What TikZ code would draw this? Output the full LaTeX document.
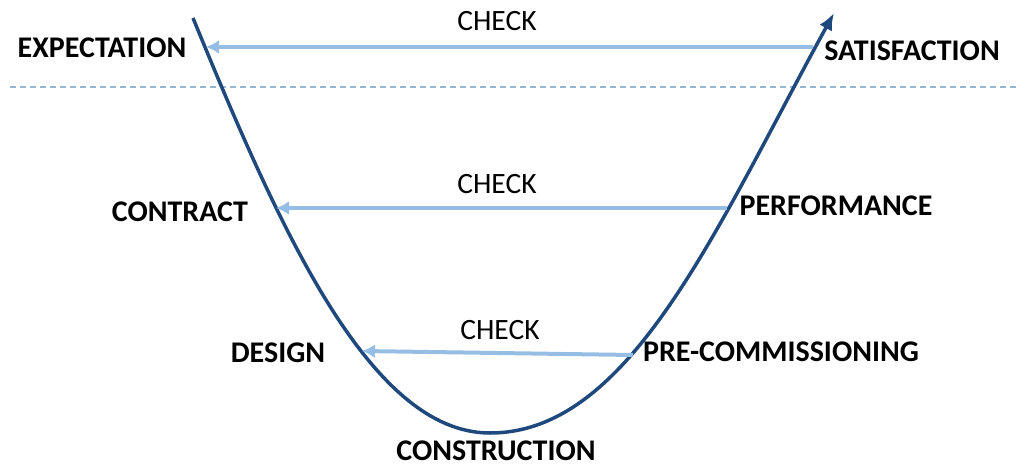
\documentclass[tikz,border=0pt]{standalone}
\usepackage{fontspec}
\setmainfont{Carlito}
\usetikzlibrary{arrows.meta}
\definecolor{vblue}{RGB}{31,73,125}
\definecolor{checkblue}{RGB}{150,190,228}
\definecolor{dashblue}{RGB}{150,182,210}
\tikzset{
  stage/.style={font=\bfseries\fontsize{30}{35}\selectfont, inner sep=0pt},
  checklbl/.style={font=\fontsize{29.5}{34}\selectfont, inner sep=0pt},
  checkarrow/.style={checkblue, line width=4pt, -{Latex[length=13pt,width=14pt]}}
}
\begin{document}
\begin{tikzpicture}[x=1pt,y=-1pt]
            \useasboundingbox (0,0) rectangle (1018,466);
            \draw [dashblue, line width=1.3pt, dash pattern=on 6pt off 4pt](10,87) -- (1018,87);
            % points where the checks meet the curve
            \coordinate (expect) at (206,47);
            \coordinate (satisf) at (813,47);
            \coordinate (contract) at (276,208);
            \coordinate (perform) at (727,208);
            \coordinate (design) at (362,351);
            \coordinate (precom) at (633,355);
            \coordinate (bottom) at (490,433);
            \draw [vblue, line width=3.5pt, -{Latex[length=17pt,width=14pt]}]
              (193,18) .. controls (280,230) and (370,433) .. (bottom)
                       .. controls (630,433) and (715,230) .. (834,13);
            \draw [checkarrow] (satisf) -- (expect);
            \draw [checkarrow] (perform) -- (contract);
            \draw [checkarrow] (precom) -- (design);
            \node [checklbl] (chk1) at (497,21) {CHECK};
            \node [checklbl] (chk2) at (497,184) {CHECK};
            \node [checklbl] (chk3) at (500,330) {CHECK};
            \node [stage] (exp) at (102,48) {EXPECTATION};
            \node [stage] (sat) at (912,51) {SATISFACTION};
            \node [stage] (con) at (180,212) {CONTRACT};
            \node [stage] (perf) at (836,206) {PERFORMANCE};
            \node [stage] (des) at (278,353) {DESIGN};
            \node [stage] (pre) at (781,352) {PRE-COMMISSIONING};
            \node [stage] (cons) at (496,451) {CONSTRUCTION};
        \end{tikzpicture}
\end{document}
